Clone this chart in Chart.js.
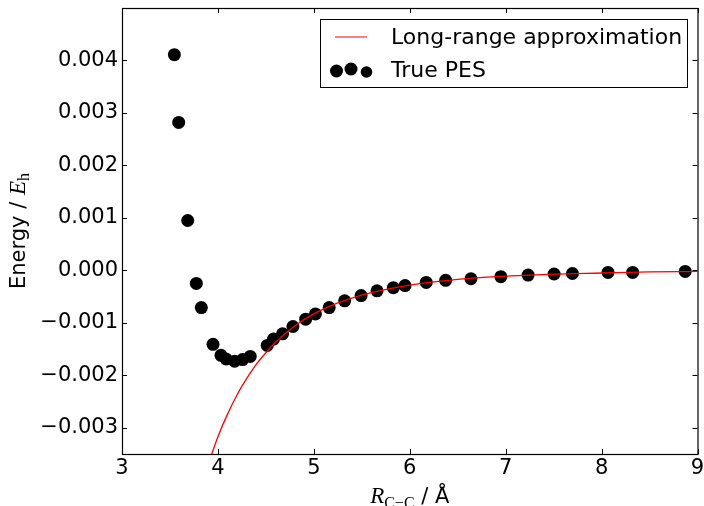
<!DOCTYPE html>
<html>
<head>
<meta charset="utf-8">
<script src="https://cdn.jsdelivr.net/npm/chart.js@4"></script>
<style>
  html, body { margin: 0; padding: 0; background: #fff; overflow: hidden; }
  canvas { display: block; }
</style>
</head>
<body>
<canvas id="pesChart" width="704" height="520"></canvas>
<script>
// True PES points (R in Angstrom, E in hartree)
const pesR = [3.546, 3.591, 3.685, 3.775, 3.827, 3.949, 4.032, 4.085, 4.174, 4.257, 4.337,
  4.514, 4.580, 4.674, 4.782, 4.915, 5.017, 5.160, 5.321, 5.493, 5.659, 5.829, 5.951,
  6.172, 6.374, 6.638, 6.950, 7.234, 7.505, 7.696, 8.067, 8.324, 8.872];
const pesE = [0.00411, 0.00282, 0.00095, -0.00025, -0.00071, -0.00141, -0.00162, -0.00169,
  -0.00173, -0.00170, -0.00164, -0.00143, -0.00131, -0.00121, -0.00107, -0.00093, -0.00083,
  -0.00071, -0.00058, -0.00048, -0.00039, -0.00033, -0.00029, -0.00023, -0.00019, -0.00016,
  -0.00012, -0.00009, -0.00007, -0.00006, -0.00004, -0.00004, -0.00002];

// long-range approximation curve
const lrR = [3.9, 4.0, 4.1, 4.2, 4.3, 4.4, 4.5, 4.6, 4.8, 5.0, 5.25, 5.5, 6.0, 6.5, 7.0, 7.5, 8.0, 8.5, 9.0];
const lrE = [-0.00369, -0.00317, -0.00274, -0.00237, -0.00206, -0.00179, -0.00157, -0.00137,
  -0.00106, -0.00083, -0.00062, -0.00047, -0.00028, -0.00017, -0.00011, -0.00007, -0.00005,
  -0.00003, -0.00002];

const xTicks = [3, 4, 5, 6, 7, 8, 9];
const yTicks = [-0.003, -0.002, -0.001, 0, 0.001, 0.002, 0.003, 0.004];

const SANS = '"DejaVu Sans", sans-serif';
const SERIF = '"Liberation Serif", "DejaVu Serif", serif';

// frame, inward ticks, legend and axis titles (matplotlib look)
const decor = {
  id: 'decor',
  afterDatasetsDraw(chart) {
    const { ctx, chartArea: a, scales } = chart;
    ctx.save();
    ctx.strokeStyle = '#000';
    ctx.lineWidth = 1.2;
    ctx.strokeRect(a.left + 0.5, a.top + 0.5, a.right - a.left, a.bottom - a.top);
    ctx.lineWidth = 1;
    const tl = 5;
    ctx.beginPath();
    xTicks.forEach(v => {
      const x = Math.round(scales.x.getPixelForValue(v)) + 0.5;
      ctx.moveTo(x, a.bottom); ctx.lineTo(x, a.bottom - tl);
      ctx.moveTo(x, a.top); ctx.lineTo(x, a.top + tl);
    });
    yTicks.forEach(v => {
      const y = Math.round(scales.y.getPixelForValue(v)) + 0.5;
      ctx.moveTo(a.left, y); ctx.lineTo(a.left + tl, y);
      ctx.moveTo(a.right, y); ctx.lineTo(a.right - tl, y);
    });
    ctx.stroke();

    // legend
    const ds = chart.data.datasets;
    ctx.fillStyle = '#fff';
    ctx.fillRect(320, 19, 367, 68);
    ctx.strokeStyle = '#000';
    ctx.strokeRect(320.5, 19.5, 367, 68);
    ctx.strokeStyle = ds[0].borderColor;
    ctx.lineWidth = 1;
    ctx.beginPath();
    ctx.moveTo(335, 37); ctx.lineTo(367, 37);
    ctx.stroke();
    ctx.fillStyle = '#000';
    [[336.5, 71, 6.5], [351, 69, 6.5], [366.5, 72, 5.8]].forEach(([cx, cy, r]) => {
      ctx.beginPath(); ctx.arc(cx, cy, r, 0, Math.PI * 2); ctx.fill();
    });
    ctx.font = '22px ' + SANS;
    ctx.textBaseline = 'middle';
    ctx.textAlign = 'left';
    ctx.fillText(ds[0].label, 391, 38);
    ctx.fillText(ds[1].label, 391, 71);

    // y title: Energy / E_h
    ctx.save();
    ctx.translate(18, (a.top + a.bottom) / 2);
    ctx.rotate(-Math.PI / 2);
    const parts = [
      { t: 'Energy / ', f: '21px ' + SANS, dy: 0 },
      { t: 'E', f: 'italic 23px ' + SERIF, dy: 0 },
      { t: 'h', f: '16px ' + SERIF, dy: 4 }
    ];
    drawParts(ctx, parts, 0, 7);
    ctx.restore();

    // x title: R_C-C / Å
    const xparts = [
      { t: 'R', f: 'italic 23px ' + SERIF, dy: 0 },
      { t: 'C\u2212C', f: '16px ' + SERIF, dy: 5 },
      { t: ' / \u00c5', f: '21px ' + SANS, dy: 0 }
    ];
    drawParts(ctx, xparts, (a.left + a.right) / 2, 503);
    ctx.restore();
  }
};

function drawParts(ctx, parts, cx, baseY) {
  ctx.textBaseline = 'alphabetic';
  ctx.textAlign = 'left';
  let w = 0;
  parts.forEach(p => { ctx.font = p.f; p.w = ctx.measureText(p.t).width; w += p.w; });
  let x = cx - w / 2;
  parts.forEach(p => {
    ctx.font = p.f;
    ctx.fillText(p.t, x, baseY + p.dy);
    x += p.w;
  });
}

new Chart(document.getElementById('pesChart'), {
  type: 'scatter',
  data: {
    datasets: [
      {
        type: 'line',
        label: 'Long-range approximation',
        data: lrR.map((r, i) => ({ x: r, y: lrE[i] })),
        borderColor: '#ff0000',
        borderWidth: 1.3,
        pointRadius: 0,
        cubicInterpolationMode: 'monotone',
        fill: false
      },
      {
        label: 'True PES',
        data: pesR.map((r, i) => ({ x: r, y: pesE[i] })),
        backgroundColor: '#000',
        borderColor: '#000',
        borderWidth: 0,
        pointRadius: 6.5
      }
    ]
  },
  options: {
    responsive: false,
    devicePixelRatio: 1,
    animation: false,
    layout: { padding: { left: 0, right: 5, top: 8, bottom: 0 } },
    plugins: { legend: { display: false }, tooltip: { enabled: false } },
    scales: {
      x: {
        type: 'linear',
        min: 3, max: 9,
        afterBuildTicks: s => { s.ticks = xTicks.map(v => ({ value: v })); },
        afterFit: s => { s.height = 66; s.paddingLeft = 0; s.paddingRight = 0; },
        grid: { display: false, drawTicks: false },
        border: { display: false },
        ticks: { color: '#000', font: { family: SANS, size: 21 }, padding: 2, maxRotation: 0 }
      },
      y: {
        type: 'linear',
        min: -0.0035, max: 0.005,
        afterBuildTicks: s => { s.ticks = yTicks.map(v => ({ value: v })); },
        afterFit: s => { s.width = 122; s.paddingTop = 0; s.paddingBottom = 0; },
        grid: { display: false, drawTicks: false },
        border: { display: false },
        ticks: {
          color: '#000', font: { family: SANS, size: 21 }, padding: 4,
          callback: v => (v < 0 ? '\u2212' : '') + Math.abs(v).toFixed(3)
        }
      }
    }
  },
  plugins: [decor]
});
</script>
</body>
</html>
